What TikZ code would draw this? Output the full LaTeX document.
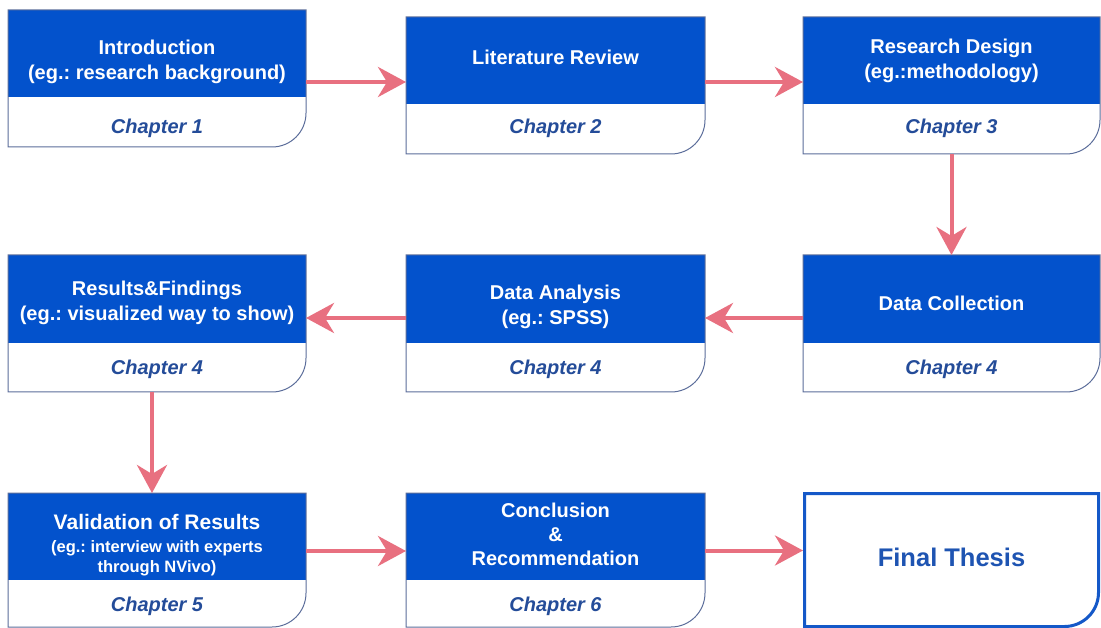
\documentclass[tikz,border=0pt]{standalone}
\usepackage{fontspec}
\setmainfont{Liberation Sans}
\usetikzlibrary{arrows.meta}
\frenchspacing
\definecolor{boxblue}{RGB}{3,82,204}
\definecolor{lineblue}{RGB}{92,110,155}
\definecolor{chapblue}{RGB}{36,76,153}
\definecolor{arrowpink}{RGB}{232,112,128}
\definecolor{finalblue}{RGB}{20,88,200}
\definecolor{finaltext}{RGB}{30,84,178}
\tikzset{
  boxline/.style={draw=lineblue, line width=1pt},
  titletext/.style={text=white, font=\bfseries\fontsize{20}{25}\selectfont, align=center, inner sep=0pt},
  smalltitle/.style={text=white, font=\bfseries\fontsize{16.5}{20}\selectfont, align=center, inner sep=0pt},
  chaptext/.style={text=chapblue, font=\bfseries\itshape\fontsize{20}{25}\selectfont, inner sep=0pt},
  finaltxt/.style={text=finaltext, font=\bfseries\fontsize{25.5}{30}\selectfont, inner sep=0pt},
  area/.style={draw=none, inner sep=0pt, outer sep=0pt, rectangle},
  arr/.style={draw=arrowpink, line width=4pt, -{Stealth[length=28pt, width=30pt, inset=9pt]}},
}
% #1 name, #2 left, #3 top, #4 right, #5 blue bottom, #6 bottom
\newcommand{\chbox}[6]{%
  \path[fill=white] (#2,-#3) -- (#4,-#3) -- (#4,{-#6+34}) arc[start angle=0,end angle=-90,radius=34] -- (#2,-#6) -- cycle;
  \fill[boxblue] (#2,-#3) rectangle (#4,-#5);
  \draw[boxline] (#2,-#3) -- (#4,-#3) -- (#4,{-#6+34}) arc[start angle=0,end angle=-90,radius=34] -- (#2,-#6) -- cycle;
  \node[area, minimum width={(#4-#2)*1pt}, minimum height={(#6-#3)*1pt}] (#1) at ({(#2+#4)/2},{-(#3+#6)/2}) {};
}
\begin{document}
\begin{tikzpicture}[x=1pt,y=1pt]
\useasboundingbox (0,0) rectangle (1101,-628);
\fill[white] (0,0) rectangle (1101,-628);

% row 1
\chbox{b1}{8}{10}{306}{97}{147}
\node[titletext] (b1t) at (157,-61.5) {Introduction\\(eg.: research background)};
\node[chaptext] (b1c) at (157,-128) {Chapter 1};
\chbox{b2}{406}{17}{705}{104}{154}
\node[titletext] (b2t) at (555.5,-57) {Literature Review};
\node[chaptext] (b2c) at (555.5,-128) {Chapter 2};
\chbox{b3}{803}{17}{1100}{104}{154}
\node[titletext] (b3t) at (951.5,-61) {Research Design\\(eg.:methodology)};
\node[chaptext] (b3c) at (951.5,-128) {Chapter 3};

% row 2
\chbox{b4}{8}{255}{306}{343}{392}
\node[titletext] (b4t) at (157,-303) {Results\&Findings\\(eg.: visualized way to show)};
\node[chaptext] (b4c) at (157,-369) {Chapter 4};
\chbox{b5}{406}{255}{705}{343}{392}
\node[titletext] (b5t) at (555.5,-307) {Data Analysis\\(eg.: SPSS)};
\node[chaptext] (b5c) at (555.5,-369) {Chapter 4};
\chbox{b6}{803}{255}{1100}{343}{392}
\node[titletext] (b6t) at (951.5,-303) {Data Collection};
\node[chaptext] (b6c) at (951.5,-369) {Chapter 4};

% row 3
\chbox{b7}{8}{493}{306}{580}{627}
\node[smalltitle] (b7t) at (157,-545) {{\fontsize{21}{21}\selectfont Validation of Results}\\[2.5pt](eg.: interview with experts\\through NVivo)};
\node[chaptext] (b7c) at (157,-606) {Chapter 5};
\chbox{b8}{406}{493}{705}{580}{627}
\node[titletext, font=\bfseries\fontsize{20}{24}\selectfont] (b8t) at (555.5,-534) {Conclusion\\\&\\Recommendation};
\node[chaptext] (b8c) at (555.5,-606) {Chapter 6};

% final box
\draw[line width=3pt, draw=finalblue, fill=white] (804.5,-493.5) -- (1098.5,-493.5) -- (1098.5,{-626.5+34}) arc[start angle=0,end angle=-90,radius=34] -- (804.5,-626.5) -- cycle;
\node[area, minimum width=297pt, minimum height=136pt] (b9) at (951.5,-560) {};
\node[finaltxt] (b9t) at (951.5,-557) {Final Thesis};

% connectors
\draw[arr] ([yshift=-3.5pt]b1.east) -- ([yshift=3.5pt]b2.west);
\draw[arr] ([yshift=3.5pt]b2.east) -- ([yshift=3.5pt]b3.west);
\draw[arr] (b3.south) -- (b6.north);
\draw[arr] ([yshift=5.5pt]b6.west) -- ([yshift=5.5pt]b5.east);
\draw[arr] ([yshift=5.5pt]b5.west) -- ([yshift=5.5pt]b4.east);
\draw[arr] ([xshift=-5pt]b4.south) -- ([xshift=-5pt]b7.north);
\draw[arr] ([yshift=9pt]b7.east) -- ([yshift=9pt]b8.west);
\draw[arr] ([yshift=9.5pt]b8.east) -- ([yshift=9.5pt]b9.west);
\end{tikzpicture}
\end{document}
